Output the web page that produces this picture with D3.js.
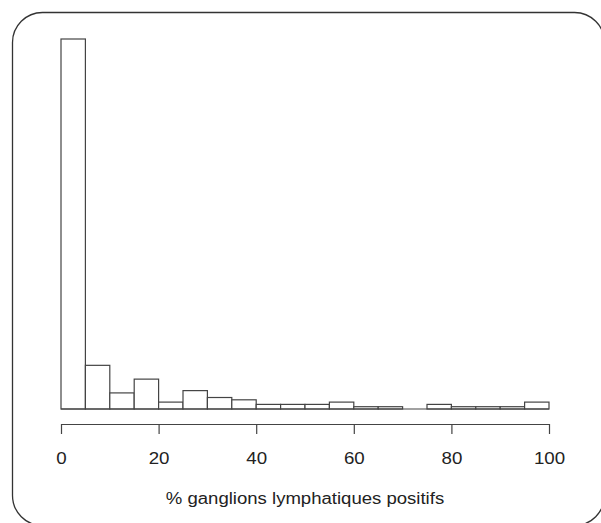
<!DOCTYPE html>
<html lang="fr">
<head>
  <meta charset="UTF-8" />
  <title>Histogramme</title>
  <script src="https://d3js.org/d3.v7.min.js"></script>
  <style>
    body {
      margin: 0;
      padding: 0;
      background-color: #fff;
    }
    svg {
      display: block;
      font-family: "Liberation Sans", Arial, sans-serif;
    }
  </style>
</head>
<body>

<svg id="chart" width="601" height="523"></svg>

<script>
  // bornes des classes (pas de 5) et effectifs
  const binStarts = [0, 5, 10, 15, 20, 25, 30, 35, 40, 45, 50, 55, 60, 65, 70, 75, 80, 85, 90, 95];
  const counts = [161, 19, 7, 13, 3, 8, 5, 4, 2, 2, 2, 3, 1, 1, 0, 2, 1, 1, 1, 3];
  const tickValues = [0, 20, 40, 60, 80, 100];
  const xLabel = "% ganglions lymphatiques positifs";
  const binWidth = 5;

  const svg = d3.select("#chart");

  // cadre arrondi
  svg.append("rect")
    .attr("x", 12.5)
    .attr("y", 12.5)
    .attr("width", 592)
    .attr("height", 513)
    .attr("rx", 30)
    .attr("ry", 30)
    .style("fill", "none")
    .style("stroke", "#333")
    .style("stroke-width", 1.3);

  const x = d3.scaleLinear().domain([0, 100]).range([61, 549]);
  const y = d3.scaleLinear().domain([0, 161]).range([409, 39]);

  const bins = binStarts.map((s, i) => ({ x0: s, x1: s + binWidth, n: counts[i] }));

  svg.append("g")
    .attr("class", "bars")
    .selectAll("rect")
    .data(bins.filter(d => d.n > 0))
    .enter().append("rect")
    .attr("x", d => x(d.x0))
    .attr("y", d => y(d.n))
    .attr("width", d => x(d.x1) - x(d.x0))
    .attr("height", d => y(0) - y(d.n))
    .style("fill", "#fff")
    .style("stroke", "#444")
    .style("stroke-width", 1.2);

  // ligne de base sous la classe vide
  svg.append("line")
    .attr("x1", x(0))
    .attr("x2", x(100))
    .attr("y1", y(0))
    .attr("y2", y(0))
    .style("stroke", "#444")
    .style("stroke-width", 1.2);

  const axis = d3.axisBottom(x)
    .tickValues(tickValues)
    .tickSize(10)
    .tickPadding(19)
    .tickSizeOuter(0);

  const gx = svg.append("g")
    .attr("transform", "translate(0,424)")
    .call(axis);

  gx.select(".domain").style("stroke", "#444").style("stroke-width", 1.2);
  gx.selectAll(".tick line").style("stroke", "#444").style("stroke-width", 1.2);
  // le texte de l'original est un peu étiré en largeur
  gx.selectAll(".tick text")
    .attr("transform", "scale(1.17,1)")
    .style("font-size", "16px")
    .style("font-family", "Liberation Sans, Arial, sans-serif")
    .style("fill", "#222");

  svg.append("g")
    .attr("transform", `translate(${x(50)},504) scale(1.16,1)`)
    .append("text")
    .attr("text-anchor", "middle")
    .style("font-size", "16px")
    .style("fill", "#222")
    .text(xLabel);
</script>

</body>
</html>
